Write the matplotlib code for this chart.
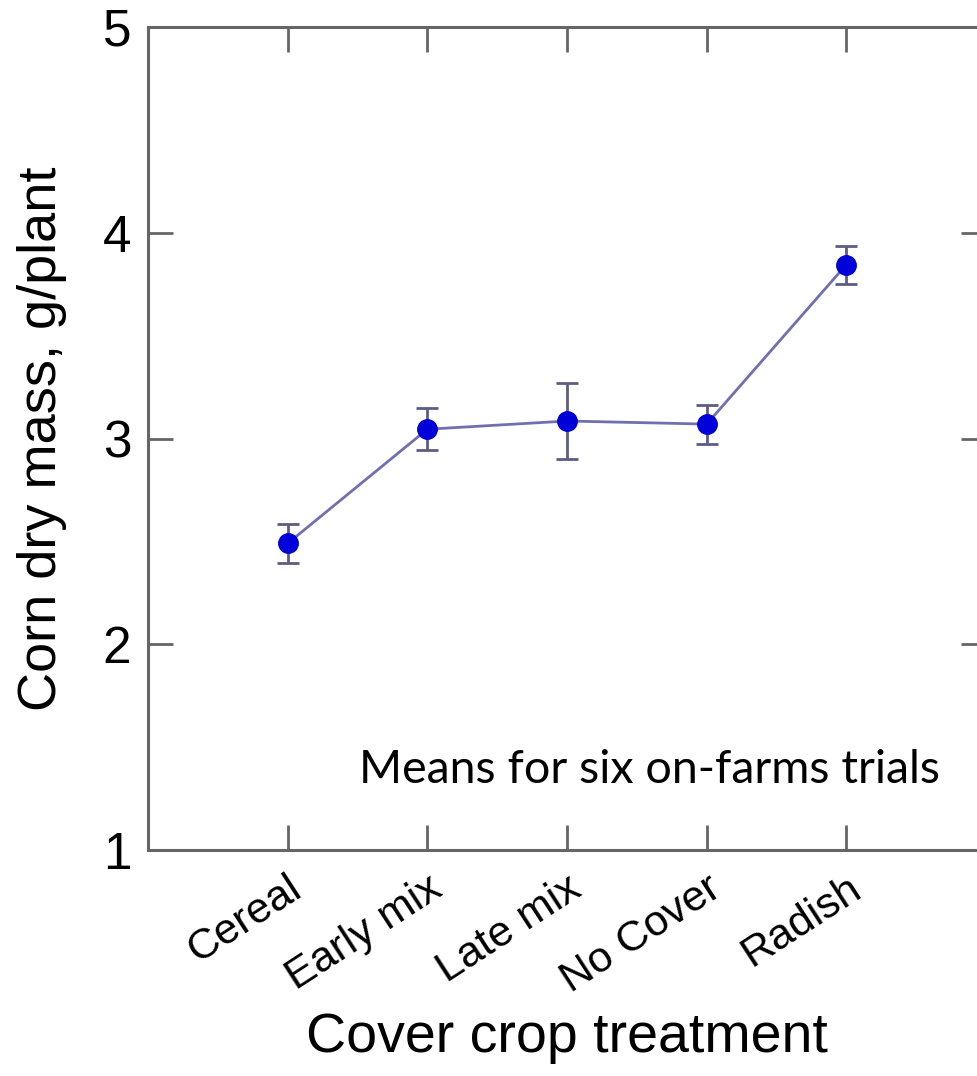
import matplotlib.pyplot as plt

# DATA
treatments = ["Cereal", "Early mix", "Late mix", "No Cover", "Radish"]
mean_mass = [2.49, 3.045, 3.085, 3.07, 3.845]
err_mass = [0.093, 0.103, 0.185, 0.095, 0.093]
y_ticks = [1, 2, 3, 4, 5]
note = "Means for six on-farms trials"

fig = plt.figure(figsize=(9.78, 10.76), dpi=100)
ax = fig.add_axes([148 / 978, 226 / 1076, 838 / 978, 823 / 1076])

xpos = list(range(len(treatments)))

# LINE + ERROR BARS
ax.plot(xpos, mean_mass, color="#7070b0", linewidth=2, zorder=2)
ax.errorbar(
    xpos, mean_mass, yerr=err_mass,
    fmt="none", ecolor="#5c5c84", elinewidth=2,
    capsize=8, capthick=2, zorder=3
)
ax.plot(
    xpos, mean_mass, linestyle="none", marker="o",
    markersize=14, color="#0000d8", zorder=4
)

# LIMITS
ax.set_xlim(-1, 5)
ax.set_ylim(1, 5)

# TICKS
ax.set_xticks(xpos)
ax.set_xticklabels(
    treatments, rotation=33, ha="right", va="top",
    rotation_mode="anchor", fontsize=31, family="Liberation Sans"
)
ax.set_yticks(y_ticks)
ax.set_yticklabels(
    [str(v) for v in y_ticks], fontsize=37, family="Liberation Sans"
)
ax.tick_params(
    direction="in", length=18, width=2, color="#666666",
    top=True, right=True
)
ax.tick_params(axis="x", pad=13)
ax.tick_params(axis="y", pad=12)

# SPINES
for side in ax.spines.values():
    side.set_color("#666666")
    side.set_linewidth(2.2)

# LABELS
ax.set_xlabel(
    "Cover crop treatment", fontsize=40,
    family="Liberation Sans", labelpad=8
)
ax.set_ylabel(
    "Corn dry mass, g/plant", fontsize=39,
    family="Liberation Sans", labelpad=26
)

# NOTE
ax.text(
    2.593, 1.389, note, fontsize=33.5, family="Lato",
    ha="center", va="center"
)

fig.savefig("out.png", dpi=100, facecolor="white")
